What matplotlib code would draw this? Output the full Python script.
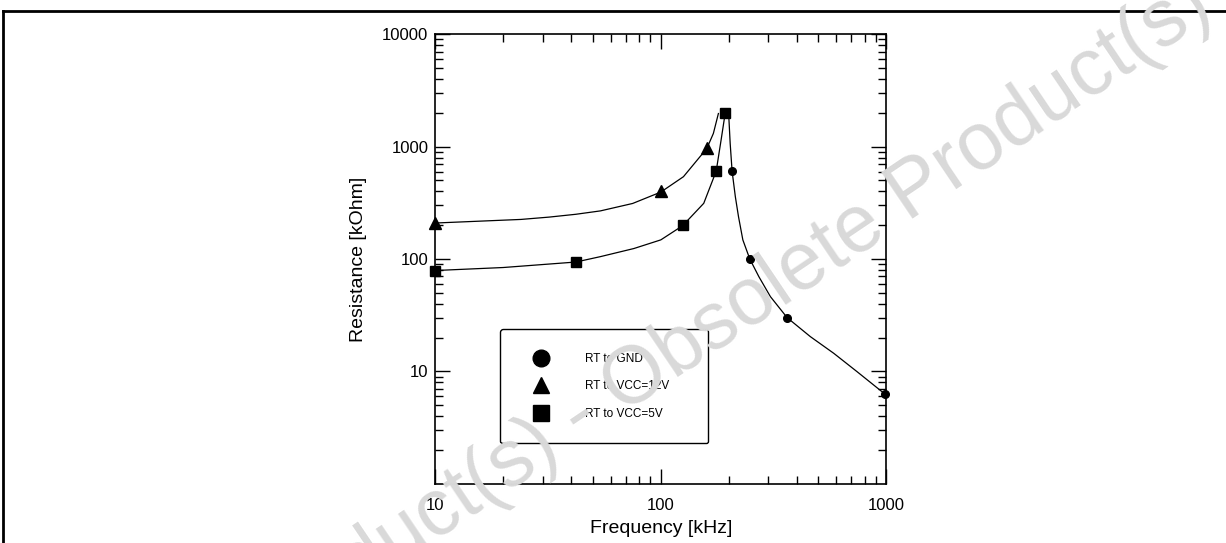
"""
RT resistance vs. oscillator frequency (log-log), datasheet style figure.
"""
import matplotlib
matplotlib.use('Agg')
import matplotlib.pyplot as plt
from matplotlib.lines import Line2D
from matplotlib.ticker import LogLocator, NullFormatter, FixedLocator, FixedFormatter

FONT = ['Liberation Sans', 'DejaVu Sans']
matplotlib.rcParams['font.family'] = FONT

# --- measured points ---
gnd_f = [207, 248, 363, 984]
gnd_r = [605, 100, 30, 6.3]
v12_f = [10, 100, 160]
v12_r = [210, 400, 970]
v5_f = [10, 42, 125, 176, 193]
v5_r = [79, 94, 200, 605, 2000]

# --- fitted curves ---
gnd_curve_f = [200, 203, 207, 214, 221, 231, 248, 272, 306, 363, 460, 584, 741, 984]
gnd_curve_r = [1905, 1067, 605, 358, 238, 148, 100, 69.7, 46.3, 30.1, 20.4, 14.5, 9.95, 6.3]
v12_curve_f = [10, 24, 32, 42, 54, 75, 100, 126, 160, 171, 180]
v12_curve_r = [209, 225, 236, 250, 268, 312, 394, 540, 964, 1310, 1970]
v5_curve_f = [10, 20, 42, 54, 76, 100, 125, 155, 176, 185, 193]
v5_curve_r = [79, 84, 94, 105, 124, 148, 198, 313, 605, 1143, 1995]

labels = ['RT to GND', 'RT to VCC=12V', 'RT to VCC=5V']
x_ticks = [10, 100, 1000]
y_ticks = [10, 100, 1000, 10000]

fig = plt.figure(figsize=(12.26, 5.43), dpi=100)
ax = fig.add_axes([0.355, 0.109, 0.368, 0.828])

ax.plot(v12_curve_f, v12_curve_r, color='black', lw=0.9)
ax.plot(v5_curve_f, v5_curve_r, color='black', lw=0.9)
ax.plot(gnd_curve_f, gnd_curve_r, color='black', lw=0.9)
ax.plot(v12_f, v12_r, '^', color='black', ms=9, clip_on=False)
ax.plot(v5_f, v5_r, 's', color='black', ms=7, clip_on=False)
ax.plot(gnd_f, gnd_r, 'o', color='black', ms=5.5, clip_on=False)

ax.set_xscale('log')
ax.set_yscale('log')
ax.set_xlim(10, 1000)
ax.set_ylim(1, 10000)

ax.xaxis.set_major_locator(FixedLocator(x_ticks))
ax.xaxis.set_major_formatter(FixedFormatter([str(t) for t in x_ticks]))
ax.yaxis.set_major_locator(FixedLocator(y_ticks))
ax.yaxis.set_major_formatter(FixedFormatter([str(t) for t in y_ticks]))
for a in (ax.xaxis, ax.yaxis):
    a.set_minor_locator(LogLocator(base=10, subs=range(2, 10)))
    a.set_minor_formatter(NullFormatter())

ax.tick_params(which='both', direction='in', top=True, right=True, width=1.0)
ax.tick_params(which='major', length=11)
ax.tick_params(which='minor', length=6)
ax.tick_params(axis='x', which='major', pad=10, labelsize=12)
ax.tick_params(axis='y', which='major', pad=5, labelsize=12)
for s in ax.spines.values():
    s.set_linewidth(1.2)

ax.set_xlabel('Frequency [kHz]', fontsize=14, labelpad=5)
ax.set_ylabel('Resistance [kOhm]', fontsize=14, labelpad=11)

handles = [
    Line2D([], [], ls='none', marker='o', color='black', ms=12),
    Line2D([], [], ls='none', marker='^', color='black', ms=11),
    Line2D([], [], ls='none', marker='s', color='black', ms=12),
]
leg = ax.legend(handles, labels, loc='lower left', bbox_to_anchor=(0.144, 0.09, 0.461, 0.247),
                mode='expand', borderaxespad=0, fontsize=8.5, borderpad=2.0, labelspacing=1.3,
                handlelength=2.95, handletextpad=2.25, frameon=True, fancybox=True)
leg.get_frame().set_edgecolor('black')
leg.get_frame().set_linewidth(1.0)
leg.get_frame().set_alpha(1)

# watermark on top, as in the scanned sheet
fig.text(0.474, 0.232, 'Obsolete Product(s) - Obsolete Product(s)', fontsize=58,
         color='#d9d9d9', rotation=34, ha='center', va='center',
         rotation_mode='anchor', zorder=5)

# outer frame
fig.add_artist(Line2D([0.0025, 1.0], [0.98, 0.98], color='black', lw=2))
fig.add_artist(Line2D([0.0025, 0.0025], [0.0, 0.98], color='black', lw=2))

fig.savefig('out.png', dpi=100)
